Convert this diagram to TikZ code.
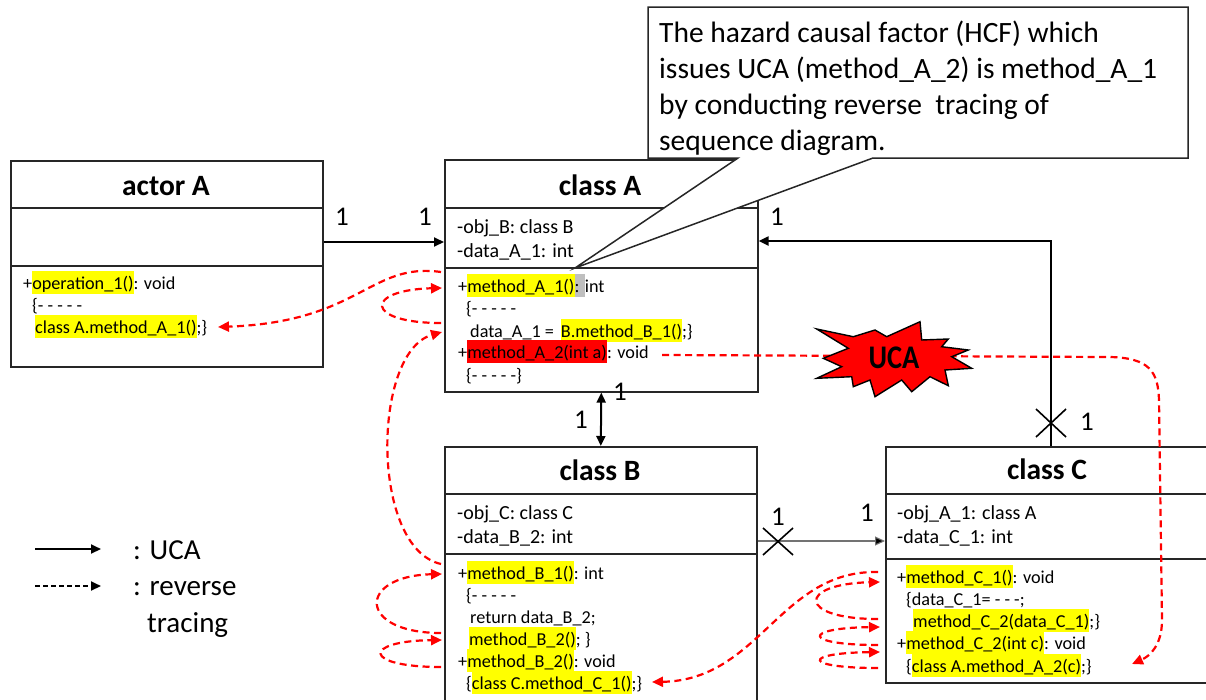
\documentclass[tikz,border=0pt]{standalone}
\usepackage{fontspec}
\setmainfont{Carlito}
\usetikzlibrary{arrows.meta}
\definecolor{hlyellow}{HTML}{FFFF00}
\definecolor{hlred}{HTML}{FF0000}
\definecolor{hlgray}{HTML}{BFBFBF}
\definecolor{tracered}{HTML}{FF0000}
\newcommand{\hlstrut}{\rule[-4.5pt]{0pt}{22.5pt}}
\newcommand{\hly}[1]{{\setlength{\fboxsep}{0pt}\colorbox{hlyellow}{\hlstrut#1}}}
\newcommand{\hlr}[1]{{\setlength{\fboxsep}{0pt}\colorbox{hlred}{\hlstrut#1}}}
\newcommand{\hlg}[1]{{\setlength{\fboxsep}{0pt}\colorbox{hlgray}{\hlstrut#1}}}
\tikzset{
  umlbox/.style={draw=black!85, line width=1.6pt, inner sep=0pt, anchor=north west},
  divline/.style={draw=black!85, line width=1.6pt},
  txt/.style={font=\fontsize{18.2}{22}\selectfont, inner sep=0pt, anchor=base west},
  atxt/.style={font=\fontsize{20}{24}\selectfont, inner sep=0pt, anchor=base west},
  ttl/.style={font=\fontsize{29.5}{32}\selectfont\bfseries, inner sep=0pt, anchor=base},
  mult/.style={font=\fontsize{27}{30}\selectfont, inner sep=0pt},
  leg/.style={font=\fontsize{29}{32}\selectfont, inner sep=0pt, anchor=base west},
  callt/.style={font=\fontsize{29.5}{36}\selectfont, inner sep=0pt, anchor=base west},
  conn/.style={line width=2pt, -{Triangle[length=10pt,width=9pt]}},
  thinconn/.style={line width=1.1pt, draw=black!55, -{Triangle[length=10pt,width=9pt,fill=black]}},
  xmark/.style={line width=1.6pt},
  rtrace/.style={draw=tracered, line width=2.2pt, dash pattern=on 7pt off 4.5pt, -{Triangle[length=11pt,width=10pt]}},
}
\begin{document}
\begin{tikzpicture}[x=1pt,y=-1pt]
\useasboundingbox (0,0) rectangle (1206,699);
\clip (0,0) rectangle (1206,699);

% ---------- boxes ----------
\node[umlbox, minimum width=312pt, minimum height=206pt] (actor) at (10,160) {};
\node[umlbox, minimum width=313pt, minimum height=232pt] (clsA) at (444,159) {};
\node[umlbox, minimum width=312pt, minimum height=270pt] (clsB) at (444,446) {};
\node[umlbox, minimum width=330pt, minimum height=236pt] (clsC) at (885,446) {};

\draw[divline] (actor.west |- 0,208) -- (actor.east |- 0,208);
\draw[divline] (actor.west |- 0,266) -- (actor.east |- 0,266);
\draw[divline] (clsA.west |- 0,208) -- (clsA.east |- 0,208);
\draw[divline] (clsA.west |- 0,268) -- (clsA.east |- 0,268);
\draw[divline] (clsB.west |- 0,494) -- (clsB.east |- 0,494);
\draw[divline] (clsB.west |- 0,554) -- (clsB.east |- 0,554);
\draw[divline] (clsC.west |- 0,494) -- (clsC.east |- 0,494);
\draw[divline] (clsC.west |- 0,559) -- (clsC.east |- 0,559);

% ---------- titles ----------
\node[ttl] (actorT) at (166,195) {actor A};
\node[ttl] (clsAT) at (600,195) {class A};
\node[ttl] (clsBT) at (600,480) {class B};
\node[ttl] (clsCT) at (1047,479) {class C};

% ---------- actor A ----------
\node[txt] (ac1) at (23,289) {+\hly{operation\_1()}: void};
\node[txt] (ac2) at (32,311) {\{- - - - -};
\node[txt] (ac3) at (35,333) {\hly{class A.method\_A\_1()};\}};

% ---------- class A ----------
\node[atxt] (aa1) at (457,233) {-obj\_B: class B};
\node[atxt] (aa2) at (457,257) {-data\_A\_1: int};
\node[txt] (am1) at (458,292) {+\hly{method\_A\_1()}\hlg{: }int};
\node[txt] (am2) at (466,314) {\{- - - - -};
\node[txt] (am3) at (470,337) {data\_A\_1 =\hspace{7pt}\hly{B.method\_B\_1()};\}};
\node[txt] (am4) at (458,358) {+\hlr{method\_A\_2(int a)}: void};
\node[txt] (am5) at (466,381) {\{- - - - -\}};

% ---------- class B ----------
\node[atxt] (ba1) at (457,519) {-obj\_C: class C};
\node[atxt] (ba2) at (457,543) {-data\_B\_2: int};
\node[txt] (bm1) at (458,579) {+\hly{method\_B\_1()}: int};
\node[txt] (bm2) at (466,601) {\{- - - - -};
\node[txt] (bm3) at (470,623) {return data\_B\_2;};
\node[txt] (bm4) at (469,645) {\hly{method\_B\_2()}; \}};
\node[txt] (bm5) at (458,667) {+\hly{method\_B\_2()}: void};
\node[txt] (bm6) at (466,689) {\{\hly{class C.method\_C\_1()};\}};

% ---------- class C ----------
\node[atxt] (ca1) at (897,519) {-obj\_A\_1: class A};
\node[atxt] (ca2) at (897,543) {-data\_C\_1: int};
\node[txt] (cm1) at (897,583) {+\hly{method\_C\_1()}: void};
\node[txt] (cm2) at (906,605) {\{data\_C\_1= - - -;};
\node[txt] (cm3) at (913,627) {\hly{method\_C\_2(data\_C\_1)};\}};
\node[txt] (cm4) at (897,649) {+\hly{method\_C\_2(int c)}: void};
\node[txt] (cm5) at (906,672) {\{\hly{class A.method\_A\_2(c)};\}};

% ---------- associations ----------
\draw[conn] (actor.east |- 0,242) -- (clsA.west |- 0,242);
\node[mult] (m1) at (342,217) {1};
\node[mult] (m2) at (425,217) {1};

\draw[line width=2pt, {Triangle[length=10pt,width=9pt]}-{Triangle[length=10pt,width=9pt]}] (clsA.south) -- (clsB.north);
\node[mult] (m3) at (620,392) {1};
\node[mult] (m4) at (581,420) {1};

\draw[thinconn] (clsB.east |- 0,541) -- (clsC.west |- 0,541);
\draw[xmark] (763,528) -- (793,555) (763,555) -- (793,528);
\node[mult] (m5) at (778,517) {1};
\node[mult] (m6) at (867,513) {1};

\coordinate (cTop) at (1051,446);
\coordinate (bend) at (1051,241);
\draw[conn] (cTop) -- (bend) -- (clsA.east |- bend);
\draw[xmark] (1036,409) -- (1066,437) (1036,437) -- (1066,409);
\node[mult] (m7) at (1087,422) {1};
\node[mult] (m8) at (777,217) {1};

% ---------- reverse tracing (red dashed) ----------
\coordinate (ucaStart) at (662,355);
\coordinate (ucaEnd) at (1132,664);
\draw[rtrace] (ucaStart) -- (1110,357) .. controls (1150,358) and (1158,372) .. (1159,400) -- (1162,620) .. controls (1162,645) and (1150,656) .. (ucaEnd);

\coordinate (ra0) at (441,272);  \coordinate (ra1) at (218,327);
\draw[rtrace] (ra0) .. controls (370,262) and (360,322) .. (ra1);
\coordinate (rb0) at (441,323);  \coordinate (rb1) at (442,288);
\draw[rtrace] (rb0) .. controls (364,323) and (364,290) .. (rb1);
\coordinate (rc0) at (441,564);  \coordinate (rc1) at (442,332);
\draw[rtrace] (rc0) .. controls (370,548) and (372,352) .. (rc1);
\coordinate (rd0) at (441,633);  \coordinate (rd1) at (442,574);
\draw[rtrace] (rd0) .. controls (357,633) and (357,576) .. (rd1);
\coordinate (re0) at (441,667);  \coordinate (re1) at (442,640);
\draw[rtrace] (re0) .. controls (362,667) and (362,641) .. (re1);
\coordinate (rf0) at (878,572);  \coordinate (rf1) at (652,682);
\draw[rtrace] (rf0) .. controls (780,570) and (760,680) .. (rf1);
\coordinate (rg0) at (878,619);  \coordinate (rg1) at (880,582);
\draw[rtrace] (rg0) .. controls (797,619) and (797,584) .. (rg1);
\coordinate (rh0) at (878,645);  \coordinate (rh1) at (880,627);
\draw[rtrace] (rh0) .. controls (802,645) and (802,628) .. (rh1);
\coordinate (ri0) at (878,668);  \coordinate (ri1) at (880,652);
\draw[rtrace] (ri0) .. controls (802,668) and (802,653) .. (ri1);

% ---------- UCA starburst ----------
\draw[fill=hlred, draw=black, line width=1.4pt, line join=miter]
  (816.7,329) -- (853.3,336.7) -- (875,330) -- (886.7,336.7) -- (920,321.7) -- (921.7,340)
  -- (948.3,339) -- (941.7,346.7) -- (968.3,350) -- (951.7,356.7) -- (971.7,368.3) -- (945,370)
  -- (948.3,385.7) -- (930,376.7) -- (911.7,391.7) -- (901.7,380) -- (875,396.7) -- (870,380)
  -- (853.3,386.7) -- (851.7,376.7) -- (816.7,378.3) -- (841.7,366.7) -- (823.3,358.3) -- (848.3,348.3) -- cycle;
\node[font=\fontsize{33}{34}\selectfont\bfseries, inner sep=0pt, anchor=base] (uca) at (894,368.5) {\scalebox{0.86}[1]{UCA}};

% ---------- callout ----------
\coordinate (calTip) at (575,268);
\draw[fill=white, draw=black!85, line width=1.5pt, line join=miter]
  (648,7) -- (1188,7) -- (1188,158) -- (873,158) -- (calTip) -- (738,158) -- (648,158) -- cycle;
\node[callt] (c1) at (659,42.5) {The hazard causal factor (HCF) which};
\node[callt] (c2) at (659,78.5) {issues UCA (method\_A\_2) is method\_A\_1};
\node[callt] (c3) at (659,114.5) {by conducting reverse\ \ tracing of};
\node[callt] (c4) at (659,150.5) {sequence diagram.};

% ---------- legend ----------
\coordinate (l1a) at (35,549); \coordinate (l1b) at (101,549);
\coordinate (l2a) at (35,586); \coordinate (l2b) at (101,586);
\draw[conn] (l1a) -- (l1b);
\draw[line width=2pt, dash pattern=on 5pt off 3pt, -{Triangle[length=10pt,width=9pt]}] (l2a) -- (l2b);
\node[leg] (lg1) at (133,559) {: UCA};
\node[leg] (lg2) at (133,595) {: reverse};
\node[leg] (lg3) at (147,632) {tracing};
\end{tikzpicture}
\end{document}
